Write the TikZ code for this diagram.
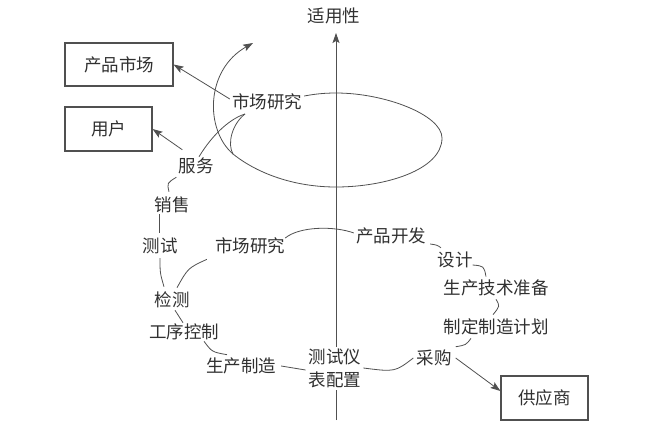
\documentclass[tikz,border=0pt]{standalone}
\usepackage{fontspec}
\setmainfont{Noto Sans CJK SC}
\usetikzlibrary{arrows.meta}
\definecolor{ln}{HTML}{505050}
\definecolor{tx}{HTML}{303030}
\begin{document}
\begin{tikzpicture}[x=1pt,y=-1pt,
  lbl/.style={inner sep=0pt,text=tx,font=\fontsize{17.5}{23}\selectfont},
  boxn/.style={draw=ln,line width=1.1pt,inner sep=0pt,text=tx,font=\fontsize{17.5}{20}\selectfont},
  con/.style={draw=ln,line width=0.8pt},
  arr/.style={con,-{Stealth[length=10pt,width=7pt,inset=2pt]}}]
\useasboundingbox (0,0) rectangle (666,426);
% axis
\coordinate (axbot) at (336,420);
\coordinate (axtop) at (336,33);
\draw[arr] (axbot) -- (axtop);
\node[lbl] (ax) at (334,16) {适用性};
% boxes
\node[boxn,minimum width=108pt,minimum height=43pt] (box1) at (119,64.5) {产品市场};
\node[boxn,minimum width=87pt,minimum height=44pt] (box2) at (108.5,129) {用户};
\node[boxn,minimum width=87pt,minimum height=44pt] (box3) at (544.5,398) {供应商};
% labels
\node[lbl] (mr1) at (267,102) {市场研究};
\node[lbl] (svc) at (196,166) {服务};
\node[lbl] (sales) at (172,205) {销售};
\node[lbl] (test) at (160,246) {测试};
\node[lbl] (mr2) at (250,246) {市场研究};
\node[lbl] (detect) at (172,300) {检测};
\node[lbl] (process) at (184,332) {工序控制};
\node[lbl] (produce) at (241,366) {生产制造};
\node[lbl,fill=white,inner sep=2pt,align=center] (meter) at (335,368) {测试仪\\表配置};
\node[lbl] (cg) at (434,358) {采购};
\node[lbl] (dev) at (391,236) {产品开发};
\node[lbl] (design) at (455,260) {设计};
\node[lbl] (tech) at (496,288) {生产技术准备};
\node[lbl] (plan) at (496,327) {制定制造计划};
% arrows to boxes
\draw[arr] ([shift={(-2pt,3pt)}]mr1.west) -- (box1.east);
\draw[arr] ([shift={(4pt,8pt)}]svc.north west) -- (box2.east);
\draw[arr] ([xshift=4pt]cg.east) -- ([yshift=7pt]box3.west);
% big loop
\coordinate (cusp) at (245,114);
\coordinate (jn) at (233,154);
\coordinate (tip) at (253,43);
\draw[con] ([xshift=3pt,yshift=1pt]svc.north) .. controls (214,132) and (232,118) .. (cusp);
\draw[con] (cusp) .. controls (232,124) and (227,144) .. (jn)
  .. controls (258,174) and (295,187) .. (336,187)
  .. controls (385,187) and (442,170) .. (442,138)
  .. controls (442,115) and (385,93) .. (336,93)
  .. controls (320,93) and (310,95) .. ([shift={(2pt,6pt)}]mr1.east);
\draw[arr] (jn) .. controls (205,130) and (205,70) .. (tip);
% lower loop
\draw[con] ([shift={(-2pt,-3pt)}]svc.south west) .. controls (167,183) .. ([shift={(-3pt,5pt)}]sales.north);
\draw[con] ([shift={(-13pt,-1pt)}]sales.south) -- ([shift={(-1pt,5pt)}]test.north);
\draw[con] ([yshift=-4pt]test.south) .. controls (160,273) .. ([shift={(-8pt,5pt)}]detect.north);
\draw[con] ([shift={(-8pt,-5pt)}]mr2.south west) .. controls (188,268) .. ([shift={(5pt,4pt)}]detect.north);
\draw[con] ([shift={(3pt,-2pt)}]detect.south) -- ([shift={(-1pt,1pt)}]process.north);
\draw[con] ([shift={(20pt,-1pt)}]process.south) .. controls (212,352) .. ([shift={(-14pt,3pt)}]produce.north);
\draw[con] ([xshift=5pt]produce.east) -- ([shift={(-1pt,-2pt)}]meter.west);
\draw[con] (meter.east) .. controls (395,372) .. ([xshift=-3pt]cg.west);
\draw[con] ([shift={(4pt,3pt)}]cg.north east) .. controls (466,345) .. ([shift={(-25pt,-3pt)}]plan.south);
\draw[con] ([yshift=-3pt]tech.south) .. controls (500,306) .. ([shift={(-3pt,4pt)}]plan.north);
\draw[con] ([yshift=-5pt]design.east) .. controls (484,266) .. ([shift={(-10pt,3pt)}]tech.north);
\draw[con] ([shift={(4pt,-8pt)}]dev.east) .. controls (437,245) .. ([shift={(-14pt,4pt)}]design.north);
\draw[con] ([shift={(-2pt,3pt)}]dev.west) .. controls (335,226) and (300,226) .. ([shift={(0pt,8pt)}]mr2.east);
\end{tikzpicture}
\end{document}
